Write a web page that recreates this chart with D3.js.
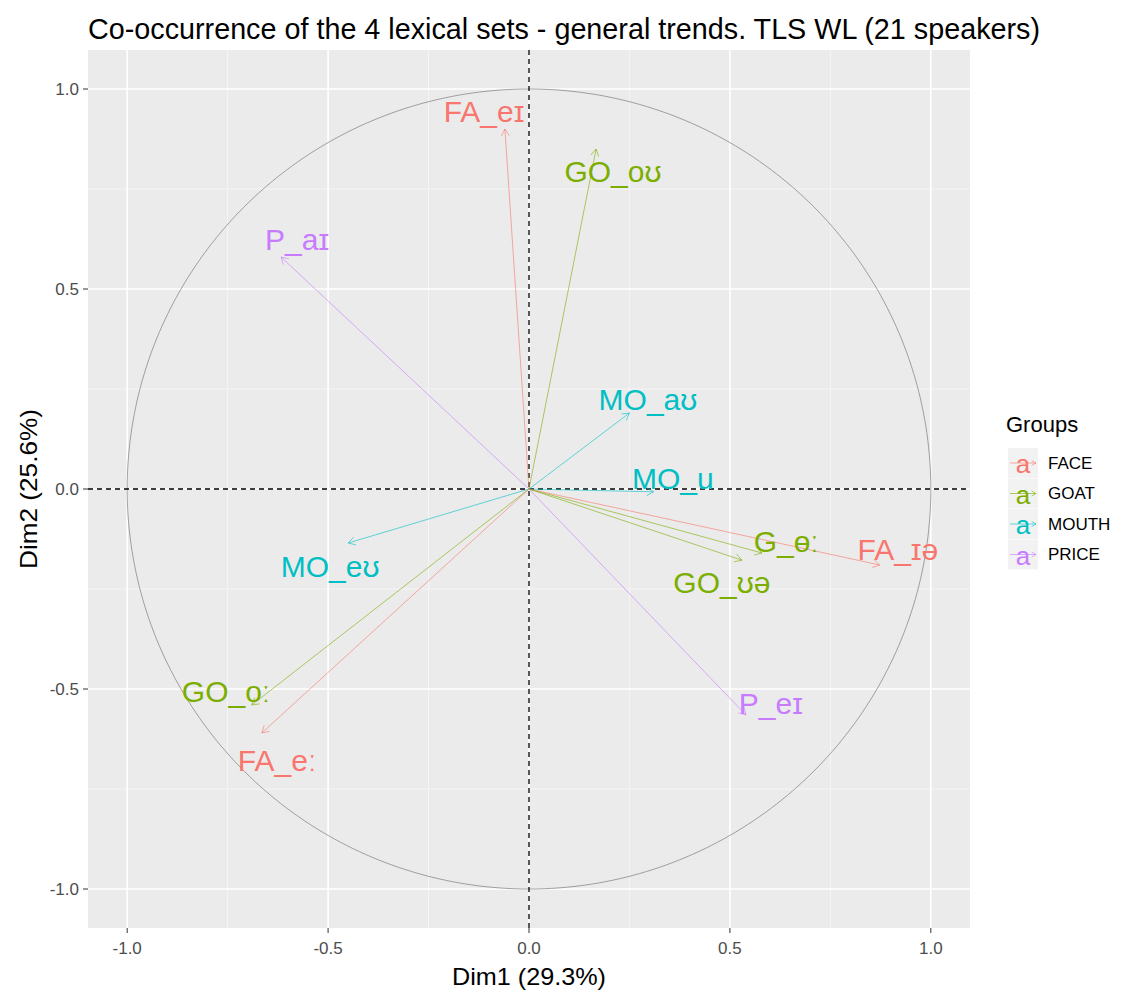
<!DOCTYPE html>
<html>
<head>
<meta charset="utf-8">
<script src="https://cdn.jsdelivr.net/npm/d3@7/dist/d3.min.js"></script>
<style>
  body { margin: 0; background: #fff; }
  svg { display: block; font-family: "Liberation Sans", Arial, sans-serif; }
</style>
</head>
<body>
<svg id="chart" width="1122" height="993"></svg>
<script>
// ---- data ----
const varNames = ["FA_eɪ", "GO_oʊ", "P_aɪ", "MO_aʊ", "MO_u", "G_ɵː", "FA_ɪə", "GO_ʊə", "MO_eʊ", "GO_oː", "FA_eː", "P_eɪ"];
const varGroups = ["FACE", "GOAT", "PRICE", "MOUTH", "MOUTH", "GOAT", "FACE", "GOAT", "MOUTH", "GOAT", "FACE", "PRICE"];
const dim1 = [-0.06, 0.167, -0.617, 0.25, 0.31, 0.58, 0.873, 0.53, -0.45, -0.69, -0.665, 0.54];
const dim2 = [0.90, 0.85, 0.58, 0.19, -0.007, -0.16, -0.19, -0.178, -0.135, -0.54, -0.61, -0.565];
// repelled label positions (data units)
const labelDim1 = [-0.112, 0.209, -0.577, 0.296, 0.358, 0.64, 0.918, 0.48, -0.495, -0.754, -0.627, 0.602];
const labelDim2 = [0.943, 0.793, 0.625, 0.225, 0.0275, -0.13, -0.15, -0.233, -0.193, -0.505, -0.678, -0.535];
const groups = ["FACE", "GOAT", "MOUTH", "PRICE"];
const groupColors = ["#F8766D", "#7CAE00", "#00BFC4", "#C77CFF"];
const xTicks = [-1.0, -0.5, 0.0, 0.5, 1.0];
const yTicks = [-1.0, -0.5, 0.0, 0.5, 1.0];
const xMinor = [-0.75, -0.25, 0.25, 0.75];
const yMinor = [-0.75, -0.25, 0.25, 0.75];
const titleText = "Co-occurrence of the 4 lexical sets - general trends. TLS WL (21 speakers)";
const xTitle = "Dim1 (29.3%)";
const yTitle = "Dim2 (25.6%)";
const legendTitle = "Groups";

// ---- layout ----
const svg = d3.select("#chart");
const panel = { left: 88, right: 970, top: 50, bottom: 928 };
const x = d3.scaleLinear().domain([-1.0975, 1.0975]).range([panel.left, panel.right]);
const y = d3.scaleLinear().domain([-1.0975, 1.0975]).range([panel.bottom, panel.top]);
const color = d3.scaleOrdinal().domain(groups).range(groupColors);

svg.append("rect")
  .attr("x", panel.left).attr("y", panel.top)
  .attr("width", panel.right - panel.left).attr("height", panel.bottom - panel.top)
  .attr("fill", "#EBEBEB");

const g = svg.append("g");
g.selectAll(".vminor").data(xMinor).join("line")
  .attr("x1", d => x(d)).attr("x2", d => x(d))
  .attr("y1", panel.top).attr("y2", panel.bottom)
  .attr("stroke", "#f7f7f7").attr("stroke-width", 0.8);
g.selectAll(".hminor").data(yMinor).join("line")
  .attr("y1", d => y(d)).attr("y2", d => y(d))
  .attr("x1", panel.left).attr("x2", panel.right)
  .attr("stroke", "#f7f7f7").attr("stroke-width", 0.8);
g.selectAll(".vmajor").data(xTicks).join("line")
  .attr("x1", d => x(d)).attr("x2", d => x(d))
  .attr("y1", panel.top).attr("y2", panel.bottom)
  .attr("stroke", "#fff").attr("stroke-width", 1.6);
g.selectAll(".hmajor").data(yTicks).join("line")
  .attr("y1", d => y(d)).attr("y2", d => y(d))
  .attr("x1", panel.left).attr("x2", panel.right)
  .attr("stroke", "#fff").attr("stroke-width", 1.6);

const circ = d3.range(0, 361).map(a => [Math.cos(a * Math.PI / 180), Math.sin(a * Math.PI / 180)]);
g.append("path")
  .attr("d", d3.line().x(d => x(d[0])).y(d => y(d[1]))(circ))
  .attr("fill", "none").attr("stroke", "#8a8a8a").attr("stroke-width", 0.8);

g.append("line").attr("x1", x(0)).attr("x2", x(0)).attr("y1", panel.top).attr("y2", panel.bottom)
  .attr("stroke", "#000").attr("stroke-width", 1.3).attr("stroke-dasharray", "5,4");
g.append("line").attr("y1", y(0)).attr("y2", y(0)).attr("x1", panel.left).attr("x2", panel.right)
  .attr("stroke", "#000").attr("stroke-width", 1.3).attr("stroke-dasharray", "5,4");

const vars = varNames.map((n, i) => ({ name: n, group: varGroups[i], d1: dim1[i], d2: dim2[i], l1: labelDim1[i], l2: labelDim2[i] }));
function arrowPath(x0, y0, x1, y1, len) {
  const ang = Math.atan2(y1 - y0, x1 - x0);
  const a1 = ang + Math.PI - Math.PI / 6, a2 = ang + Math.PI + Math.PI / 6;
  return `M${x0},${y0}L${x1},${y1}M${x1 + len * Math.cos(a1)},${y1 + len * Math.sin(a1)}L${x1},${y1}L${x1 + len * Math.cos(a2)},${y1 + len * Math.sin(a2)}`;
}
g.selectAll(".arrow").data(vars).join("path")
  .attr("d", d => arrowPath(x(0), y(0), x(d.d1), y(d.d2), 8))
  .attr("fill", "none").attr("stroke", d => color(d.group))
  .attr("stroke-width", 1).attr("stroke-opacity", 0.6);

g.selectAll(".lab").data(vars).join("text")
  .attr("x", d => x(d.l1)).attr("y", d => y(d.l2))
  .attr("text-anchor", "middle").attr("dominant-baseline", "central")
  .attr("font-size", 30).attr("fill", d => color(d.group))
  .text(d => d.name);

const tickColor = "#333";
const tc = "#4D4D4D";
svg.selectAll(".xt").data(xTicks).join("line")
  .attr("x1", d => x(d)).attr("x2", d => x(d)).attr("y1", panel.bottom).attr("y2", panel.bottom + 5)
  .attr("stroke", tickColor).attr("stroke-width", 1);
svg.selectAll(".xtl").data(xTicks).join("text")
  .attr("x", d => x(d)).attr("y", panel.bottom + 26)
  .attr("text-anchor", "middle").attr("font-size", 17).attr("fill", tc)
  .text(d => d3.format(".1f")(d).replace("−", "-"));
svg.selectAll(".yt").data(yTicks).join("line")
  .attr("y1", d => y(d)).attr("y2", d => y(d)).attr("x1", panel.left - 5).attr("x2", panel.left)
  .attr("stroke", tickColor).attr("stroke-width", 1);
svg.selectAll(".ytl").data(yTicks).join("text")
  .attr("x", panel.left - 9).attr("y", d => y(d)).attr("dominant-baseline", "central")
  .attr("text-anchor", "end").attr("font-size", 17).attr("fill", tc)
  .text(d => d3.format(".1f")(d).replace("−", "-"));

svg.append("text").attr("x", (panel.left + panel.right) / 2).attr("y", 985)
  .attr("text-anchor", "middle").attr("font-size", 24).attr("fill", "#000")
  .attr("textLength", 154).attr("lengthAdjust", "spacingAndGlyphs").text(xTitle);
svg.append("text").attr("transform", `translate(37,${(panel.top + panel.bottom) / 2}) rotate(-90)`)
  .attr("text-anchor", "middle").attr("font-size", 24).attr("fill", "#000")
  .attr("textLength", 160).attr("lengthAdjust", "spacingAndGlyphs").text(yTitle);

svg.append("text").attr("x", 88).attr("y", 39)
  .attr("font-size", 30).attr("fill", "#000")
  .attr("textLength", 952).attr("lengthAdjust", "spacingAndGlyphs").text(titleText);

const leg = svg.append("g").attr("transform", "translate(1006,0)");
leg.append("text").attr("x", 0).attr("y", 432).attr("font-size", 22).attr("fill", "#000").text(legendTitle);
const items = leg.selectAll(".item").data(groups).join("g")
  .attr("transform", (d, i) => `translate(0,${463 + i * 30.5})`);
items.append("rect").attr("x", 2).attr("y", -15).attr("width", 30).attr("height", 30).attr("fill", "#F2F2F2");
items.append("path").attr("d", arrowPath(4, 0, 30, 0, 5))
  .attr("fill", "none").attr("stroke", d => color(d)).attr("stroke-width", 1).attr("stroke-opacity", 0.6);
items.append("text").attr("x", 17).attr("y", 1).attr("text-anchor", "middle").attr("dominant-baseline", "central")
  .attr("font-size", 26).attr("fill", d => color(d)).text("a");
items.append("text").attr("x", 42).attr("y", 0).attr("dominant-baseline", "central")
  .attr("font-size", 17).attr("fill", "#000").text(d => d);
</script>
</body>
</html>
